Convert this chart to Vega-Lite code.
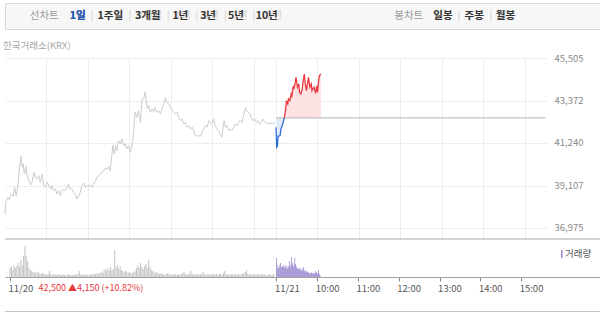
{
"$schema": "https://vega.github.io/schema/vega-lite/v6.json",
"padding": {"left": 3, "top": 2, "right": 0, "bottom": 0},
"background": "white",
"config": {"font": "Noto Sans CJK KR", "view": {"stroke": null}, "title": {"fontWeight": "normal"}},
"datasets": {
"p1": [{"t":0,"p":37680},{"t":1,"p":38260},{"t":4,"p":38520},{"t":6,"p":38400},{"t":9,"p":38680},{"t":12,"p":38570},{"t":14,"p":39020},{"t":16,"p":38600},{"t":18,"p":38930},{"t":21,"p":40020},{"t":23,"p":40570},{"t":25,"p":40020},{"t":26,"p":40190},{"t":28,"p":39680},{"t":30,"p":40070},{"t":32,"p":39600},{"t":34,"p":39430},{"t":37,"p":39130},{"t":39,"p":39270},{"t":42,"p":39770},{"t":44,"p":39520},{"t":46,"p":39430},{"t":49,"p":39600},{"t":51,"p":39270},{"t":54,"p":39680},{"t":56,"p":39100},{"t":58,"p":39020},{"t":61,"p":39270},{"t":63,"p":39130},{"t":66,"p":38930},{"t":68,"p":39100},{"t":70,"p":38850},{"t":73,"p":38930},{"t":75,"p":38680},{"t":78,"p":38850},{"t":80,"p":38600},{"t":82,"p":38800},{"t":85,"p":38930},{"t":87,"p":38850},{"t":90,"p":39020},{"t":92,"p":39180},{"t":94,"p":38930},{"t":97,"p":38930},{"t":99,"p":38770},{"t":102,"p":38680},{"t":104,"p":38430},{"t":107,"p":38600},{"t":109,"p":38770},{"t":111,"p":39100},{"t":114,"p":39230},{"t":116,"p":39020},{"t":119,"p":39100},{"t":121,"p":39070},{"t":123,"p":39130},{"t":126,"p":39020},{"t":128,"p":39180},{"t":131,"p":39350},{"t":133,"p":39520},{"t":136,"p":39600},{"t":138,"p":39680},{"t":140,"p":39770},{"t":143,"p":39850},{"t":145,"p":39970},{"t":148,"p":39940},{"t":150,"p":40070},{"t":152,"p":39850},{"t":154,"p":40440},{"t":156,"p":41140},{"t":158,"p":40690},{"t":160,"p":41100},{"t":162,"p":40850},{"t":164,"p":41360},{"t":167,"p":41190},{"t":169,"p":41440},{"t":172,"p":41100},{"t":174,"p":41190},{"t":176,"p":40940},{"t":179,"p":41100},{"t":181,"p":40770},{"t":184,"p":41190},{"t":186,"p":41780},{"t":188,"p":42780},{"t":191,"p":42530},{"t":193,"p":42860},{"t":196,"p":42280},{"t":198,"p":43360},{"t":201,"p":43530},{"t":203,"p":43810},{"t":204,"p":43450},{"t":206,"p":42950},{"t":208,"p":43110},{"t":210,"p":42780},{"t":213,"p":42950},{"t":215,"p":42780},{"t":217,"p":43030},{"t":220,"p":42780},{"t":222,"p":42860},{"t":225,"p":42700},{"t":227,"p":42950},{"t":230,"p":43200},{"t":232,"p":43530},{"t":234,"p":43280},{"t":237,"p":43200},{"t":239,"p":43030},{"t":242,"p":42860},{"t":244,"p":42780},{"t":246,"p":42700},{"t":249,"p":42780},{"t":251,"p":42530},{"t":254,"p":42360},{"t":256,"p":42440},{"t":259,"p":42190},{"t":261,"p":42280},{"t":263,"p":42030},{"t":266,"p":42110},{"t":268,"p":41940},{"t":271,"p":42030},{"t":273,"p":41860},{"t":275,"p":41610},{"t":278,"p":41580},{"t":280,"p":41610},{"t":283,"p":41580},{"t":285,"p":41780},{"t":287,"p":41940},{"t":290,"p":42110},{"t":292,"p":42030},{"t":295,"p":42360},{"t":297,"p":42280},{"t":299,"p":42190},{"t":302,"p":42440},{"t":304,"p":42110},{"t":307,"p":41940},{"t":309,"p":41860},{"t":311,"p":41690},{"t":314,"p":41530},{"t":315,"p":41940},{"t":317,"p":42360},{"t":319,"p":42030},{"t":321,"p":42110},{"t":324,"p":41860},{"t":326,"p":41940},{"t":328,"p":41860},{"t":331,"p":42030},{"t":333,"p":42190},{"t":336,"p":42110},{"t":338,"p":42280},{"t":340,"p":42360},{"t":343,"p":42280},{"t":345,"p":42610},{"t":348,"p":43030},{"t":349,"p":42860},{"t":352,"p":42780},{"t":354,"p":42700},{"t":356,"p":42530},{"t":359,"p":42360},{"t":361,"p":42440},{"t":364,"p":42280},{"t":366,"p":42360},{"t":368,"p":42190},{"t":371,"p":42280},{"t":373,"p":42440},{"t":376,"p":42280},{"t":378,"p":42230},{"t":390,"p":42230}],
"p2": [{"t":392,"p":42030,"s":"d"},{"t":393,"p":41020,"s":"d"},{"t":394,"p":41070,"s":"d"},{"t":395,"p":41580,"s":"d"},{"t":396,"p":41580,"s":"d"},{"t":398,"p":41610,"s":"d"},{"t":399,"p":41940,"s":"d"},{"t":401,"p":42110,"s":"d"},{"t":403,"p":42360,"s":"d"},{"t":404,"p":42500,"s":"d"},{"t":404,"p":42500,"s":"u"},{"t":405,"p":42700,"s":"u"},{"t":406,"p":42950,"s":"u"},{"t":407,"p":43360,"s":"u"},{"t":409,"p":43200,"s":"u"},{"t":410,"p":43450,"s":"u"},{"t":412,"p":43360,"s":"u"},{"t":414,"p":43700,"s":"u"},{"t":415,"p":43610,"s":"u"},{"t":417,"p":44110,"s":"u"},{"t":418,"p":43950,"s":"u"},{"t":420,"p":44290,"s":"u"},{"t":421,"p":44540,"s":"u"},{"t":423,"p":44040,"s":"u"},{"t":425,"p":44200,"s":"u"},{"t":426,"p":43780,"s":"u"},{"t":428,"p":43700,"s":"u"},{"t":430,"p":43950,"s":"u"},{"t":431,"p":44290,"s":"u"},{"t":433,"p":44700,"s":"u"},{"t":434,"p":44290,"s":"u"},{"t":436,"p":43870,"s":"u"},{"t":438,"p":44290,"s":"u"},{"t":439,"p":44540,"s":"u"},{"t":441,"p":44040,"s":"u"},{"t":443,"p":44200,"s":"u"},{"t":444,"p":43870,"s":"u"},{"t":445,"p":43950,"s":"u"},{"t":447,"p":44040,"s":"u"},{"t":449,"p":43780,"s":"u"},{"t":450,"p":43870,"s":"u"},{"t":451,"p":44110,"s":"u"},{"t":452,"p":43780,"s":"u"},{"t":454,"p":44450,"s":"u"},{"t":455,"p":44620,"s":"u"},{"t":457,"p":44700,"s":"u"}],
"v1": [{"t":0,"v":9},{"t":2,"v":11},{"t":4,"v":7},{"t":6,"v":12},{"t":8,"v":9},{"t":10,"v":11},{"t":12,"v":14},{"t":14,"v":10},{"t":16,"v":17},{"t":18,"v":12},{"t":20,"v":21},{"t":22,"v":31},{"t":24,"v":21},{"t":26,"v":16},{"t":28,"v":9},{"t":30,"v":7},{"t":32,"v":6},{"t":34,"v":5},{"t":36,"v":4},{"t":38,"v":5},{"t":40,"v":4},{"t":42,"v":5},{"t":44,"v":3},{"t":46,"v":3},{"t":48,"v":4},{"t":50,"v":3},{"t":52,"v":3},{"t":54,"v":2},{"t":56,"v":3},{"t":58,"v":6},{"t":60,"v":3},{"t":62,"v":2},{"t":64,"v":2},{"t":66,"v":3},{"t":68,"v":2},{"t":70,"v":2},{"t":72,"v":3},{"t":74,"v":2},{"t":76,"v":2},{"t":78,"v":3},{"t":80,"v":2},{"t":82,"v":2},{"t":84,"v":2},{"t":86,"v":3},{"t":88,"v":2},{"t":90,"v":2},{"t":92,"v":2},{"t":94,"v":2},{"t":96,"v":3},{"t":98,"v":2},{"t":100,"v":3},{"t":102,"v":6},{"t":104,"v":2},{"t":106,"v":3},{"t":108,"v":2},{"t":110,"v":2},{"t":112,"v":3},{"t":114,"v":2},{"t":116,"v":2},{"t":118,"v":2},{"t":120,"v":3},{"t":122,"v":2},{"t":124,"v":3},{"t":126,"v":3},{"t":128,"v":4},{"t":130,"v":3},{"t":132,"v":4},{"t":134,"v":5},{"t":136,"v":4},{"t":138,"v":6},{"t":140,"v":8},{"t":142,"v":6},{"t":144,"v":9},{"t":146,"v":7},{"t":148,"v":10},{"t":150,"v":6},{"t":152,"v":8},{"t":154,"v":27},{"t":156,"v":10},{"t":158,"v":12},{"t":160,"v":8},{"t":162,"v":11},{"t":164,"v":7},{"t":166,"v":6},{"t":168,"v":5},{"t":170,"v":6},{"t":172,"v":5},{"t":174,"v":4},{"t":176,"v":5},{"t":178,"v":4},{"t":180,"v":4},{"t":182,"v":5},{"t":184,"v":6},{"t":186,"v":9},{"t":188,"v":12},{"t":190,"v":9},{"t":192,"v":14},{"t":194,"v":10},{"t":196,"v":8},{"t":198,"v":11},{"t":200,"v":13},{"t":202,"v":9},{"t":204,"v":17},{"t":206,"v":10},{"t":208,"v":7},{"t":210,"v":6},{"t":212,"v":5},{"t":214,"v":4},{"t":216,"v":5},{"t":218,"v":4},{"t":220,"v":3},{"t":222,"v":4},{"t":224,"v":3},{"t":226,"v":3},{"t":228,"v":2},{"t":230,"v":3},{"t":232,"v":4},{"t":234,"v":3},{"t":236,"v":2},{"t":238,"v":3},{"t":240,"v":2},{"t":242,"v":3},{"t":244,"v":3},{"t":246,"v":2},{"t":248,"v":3},{"t":250,"v":2},{"t":252,"v":3},{"t":254,"v":4},{"t":256,"v":5},{"t":258,"v":3},{"t":260,"v":2},{"t":262,"v":3},{"t":264,"v":3},{"t":266,"v":6},{"t":268,"v":3},{"t":270,"v":2},{"t":272,"v":3},{"t":274,"v":2},{"t":276,"v":3},{"t":278,"v":2},{"t":280,"v":3},{"t":282,"v":3},{"t":284,"v":5},{"t":286,"v":3},{"t":288,"v":2},{"t":290,"v":3},{"t":292,"v":2},{"t":294,"v":3},{"t":296,"v":2},{"t":298,"v":3},{"t":300,"v":3},{"t":302,"v":2},{"t":304,"v":3},{"t":306,"v":2},{"t":308,"v":3},{"t":310,"v":3},{"t":312,"v":2},{"t":314,"v":4},{"t":316,"v":6},{"t":318,"v":3},{"t":320,"v":2},{"t":322,"v":3},{"t":324,"v":2},{"t":326,"v":3},{"t":328,"v":3},{"t":330,"v":2},{"t":332,"v":3},{"t":334,"v":2},{"t":336,"v":3},{"t":338,"v":2},{"t":340,"v":3},{"t":342,"v":3},{"t":344,"v":4},{"t":346,"v":5},{"t":348,"v":7},{"t":350,"v":3},{"t":352,"v":2},{"t":354,"v":3},{"t":356,"v":2},{"t":358,"v":3},{"t":360,"v":2},{"t":362,"v":3},{"t":364,"v":2},{"t":366,"v":3},{"t":368,"v":2},{"t":370,"v":3},{"t":372,"v":2},{"t":374,"v":3},{"t":376,"v":2},{"t":378,"v":2},{"t":380,"v":2},{"t":382,"v":3},{"t":384,"v":2},{"t":386,"v":2},{"t":388,"v":3}],
"v2": [{"t":392,"v":19},{"t":393,"v":12},{"t":394,"v":8},{"t":395,"v":9},{"t":396,"v":10},{"t":397,"v":12},{"t":398,"v":14},{"t":399,"v":10},{"t":400,"v":9},{"t":401,"v":11},{"t":402,"v":10},{"t":403,"v":12},{"t":404,"v":9},{"t":405,"v":10},{"t":406,"v":12},{"t":407,"v":9},{"t":408,"v":8},{"t":409,"v":11},{"t":410,"v":10},{"t":411,"v":16},{"t":412,"v":12},{"t":413,"v":10},{"t":414,"v":20},{"t":415,"v":12},{"t":416,"v":14},{"t":417,"v":10},{"t":418,"v":12},{"t":419,"v":19},{"t":420,"v":13},{"t":421,"v":11},{"t":422,"v":9},{"t":423,"v":8},{"t":424,"v":9},{"t":425,"v":7},{"t":426,"v":8},{"t":427,"v":9},{"t":428,"v":7},{"t":429,"v":6},{"t":430,"v":8},{"t":431,"v":7},{"t":432,"v":10},{"t":433,"v":6},{"t":434,"v":7},{"t":435,"v":5},{"t":436,"v":5},{"t":437,"v":6},{"t":438,"v":4},{"t":439,"v":5},{"t":440,"v":4},{"t":441,"v":4},{"t":442,"v":3},{"t":443,"v":4},{"t":444,"v":5},{"t":445,"v":3},{"t":446,"v":4},{"t":447,"v":4},{"t":448,"v":3},{"t":449,"v":6},{"t":450,"v":4},{"t":451,"v":5},{"t":452,"v":3},{"t":453,"v":4},{"t":454,"v":7},{"t":455,"v":3},{"t":456,"v":2}],
"hdrL": [{"half":"L","head":"선차트","tabs":"1일\u00a0\u00a0|\u00a0\u00a01주일\u00a0\u00a0|\u00a0\u00a03개월\u00a0\u00a0|\u00a0\u00a01년\u00a0\u00a0|\u00a0\u00a03년\u00a0\u00a0|\u00a0\u00a05년\u00a0\u00a0|\u00a0\u00a010년","plain":"1일\u00a0\u00a0\u00a0\u00a0\u00a01주일\u00a0\u00a0\u00a0\u00a0\u00a03개월\u00a0\u00a0\u00a0\u00a0\u00a01년\u00a0\u00a0\u00a0\u00a0\u00a03년\u00a0\u00a0\u00a0\u00a0\u00a05년\u00a0\u00a0\u00a0\u00a0\u00a010년","on":"1일"}],
"hdrR": [{"half":"R","head":"봉차트","tabs":"일봉\u00a0\u00a0|\u00a0\u00a0주봉\u00a0\u00a0|\u00a0\u00a0월봉","plain":"일봉\u00a0\u00a0\u00a0\u00a0\u00a0주봉\u00a0\u00a0\u00a0\u00a0\u00a0월봉"}]
},
"spacing": 10,
"resolve": {"scale": {"color": "independent"}, "legend": {"color": "independent"}},
"vconcat": [
{
 "width": 595, "height": 26,
 "view": {"fill": "#f7f7f7", "stroke": "#d8d8d8"},
 "encoding": {"x": {"field": "half", "type": "nominal", "axis": null, "scale": {"domain": ["L","R"], "paddingInner": 0, "paddingOuter": 0}}},
 "layer": [
  {"data": {"name": "hdrL"}, "mark": {"type":"text","fontSize":10.5,"color":"#9a9a9a","align":"right","dx":-95}, "encoding": {"text": {"field":"head"}}},
  {"data": {"name": "hdrL"}, "mark": {"type":"text","fontSize":10.5,"fontWeight":"bold","color":"#dcdcdc","align":"left","dx":-84}, "encoding": {"text": {"field":"tabs"}}},
  {"data": {"name": "hdrL"}, "mark": {"type":"text","fontSize":10.5,"fontWeight":"bold","color":"#333333","align":"left","dx":-84}, "encoding": {"text": {"field":"plain"}}},
  {"data": {"name": "hdrL"}, "mark": {"type":"text","fontSize":10.5,"fontWeight":"bold","color":"#2c62c8","align":"left","dx":-84}, "encoding": {"text": {"field":"on"}}},
  {"data": {"name": "hdrR"}, "mark": {"type":"text","fontSize":10.5,"color":"#9a9a9a","align":"right","dx":-28}, "encoding": {"text": {"field":"head"}}},
  {"data": {"name": "hdrR"}, "mark": {"type":"text","fontSize":10.5,"fontWeight":"bold","color":"#dcdcdc","align":"left","dx":-18}, "encoding": {"text": {"field":"tabs"}}},
  {"data": {"name": "hdrR"}, "mark": {"type":"text","fontSize":10.5,"fontWeight":"bold","color":"#333333","align":"left","dx":-18}, "encoding": {"text": {"field":"plain"}}}
 ]
},
{
 "spacing": 0,
 "resolve": {"scale": {"color": "independent"}, "legend": {"color": "independent"}},
 "vconcat": [
  {
   "width": 542, "height": 180,
   "title": {"text": "한국거래소(KRX)", "anchor": "start", "fontSize": 9.5, "color": "#a8a8a8", "offset": 3},
   "layer": [
    {"data": {"name": "p1"}, "mark": {"type": "line", "color": "#cccccc", "strokeWidth": 1},
     "encoding": {
      "x": {"field": "t", "type": "quantitative", "scale": {"domain": [0, 784], "nice": false, "zero": false},
            "axis": {"values": [60,120,180,240,300,360,392,452,512,572,632,692,752], "grid": true, "gridColor": "#ededed", "labels": false, "ticks": false, "domain": false, "title": null}},
      "y": {"field": "p", "type": "quantitative", "scale": {"domain": [36473, 45505], "nice": false, "zero": false},
            "axis": {"orient": "right", "values": [36975,39107,41240,43372,45505], "format": ",.0f", "grid": true, "gridColor": "#ededed", "domain": false, "ticks": false, "labelPadding": 7, "labelFontSize": 9.5, "labelColor": "#8a8a8a", "title": null}}
     }},
    {"data": {"name": "p2"}, "mark": {"type": "area"},
     "encoding": {
      "x": {"field": "t", "type": "quantitative"},
      "y": {"field": "p", "type": "quantitative", "stack": null},
      "y2": {"datum": 42500},
      "color": {"field": "s", "type": "nominal", "scale": {"domain": ["d","u"], "range": ["#e2ebf8","#fde2e2"]}, "legend": null}
     }},
    {"data": {"values": [{}]}, "mark": {"type": "rule", "color": "#b4b4b4", "strokeWidth": 1},
     "encoding": {"y": {"datum": 42500}, "x": {"datum": 392}, "x2": {"datum": 782}}},
    {"data": {"name": "p2"}, "mark": {"type": "line", "strokeWidth": 1.3},
     "encoding": {
      "x": {"field": "t", "type": "quantitative"},
      "y": {"field": "p", "type": "quantitative"},
      "detail": {"field": "s"},
      "stroke": {"field": "s", "type": "nominal", "scale": {"domain": ["d","u"], "range": ["#2f6fd6","#ea3a40"]}, "legend": null}
     }}
   ]
  },
  {
   "width": 597, "height": 38,
   "layer": [
    {"data": {"values": [{}]}, "mark": {"type": "rule", "color": "#a8a8a8", "strokeWidth": 1},
     "encoding": {"y": {"datum": 38, "type": "quantitative", "scale": {"domain": [0, 38], "nice": false}, "axis": null}}},
    {"data": {"name": "v1"}, "mark": {"type": "bar", "width": 1.1, "color": "#c8c8c8"},
     "encoding": {
      "x": {"field": "t", "type": "quantitative", "scale": {"domain": [0, 863.55], "nice": false, "zero": false},
            "axis": {"values": [0,44,392,452,512,572,632,692,752],
                     "labelExpr": "datum.value == 0 ? '11/20' : datum.value == 44 ? '42,500 ▲4,150 (+10.82%)' : datum.value == 392 ? '11/21' : (9 + (datum.value - 392) / 60) + ':00'",
                     "labelAlign": "left",
                     "labelOffset": -2,
                     "labelColor": {"condition": {"test": "datum.value == 44", "value": "#e5383b"}, "value": "#555555"},
                     "labelFontSize": {"condition": {"test": "datum.value == 44", "value": 9}, "value": 9.5},
                     "tickOpacity": {"condition": {"test": "datum.value == 44", "value": 0}, "value": 1},
                     "labelOverlap": false, "labelFlush": false, "labelPadding": 2, "tickColor": "#888888", "tickSize": 4, "domainColor": "#a0a0a0", "grid": false, "title": null}},
      "y": {"field": "v", "type": "quantitative", "axis": null}
     }},
    {"data": {"name": "v2"}, "mark": {"type": "bar", "width": 0.8},
     "encoding": {
      "x": {"field": "t", "type": "quantitative"},
      "y": {"field": "v", "type": "quantitative"},
      "color": {"datum": "거래량", "type": "nominal", "scale": {"domain": ["거래량"], "range": ["#9c8bd0"]},
                "legend": {"title": null, "orient": "top-right", "offset": 10, "padding": 0, "symbolType": "M0.5,-1H0.9V1H0.5Z", "symbolSize": 64, "symbolFillColor": "#7d6fb3", "labelFontSize": 9.5, "labelColor": "#555555", "labelOffset": 1}}
     }}
   ]
  },
  {
   "width": 597, "height": 19,
   "data": {"values": [{}]},
   "mark": {"type": "rule", "color": "#8c8c8c", "strokeWidth": 1},
   "encoding": {"y": {"datum": 0, "type": "quantitative", "scale": {"domain": [0, 1]}, "axis": null}}
  }
 ]
}
]
}
